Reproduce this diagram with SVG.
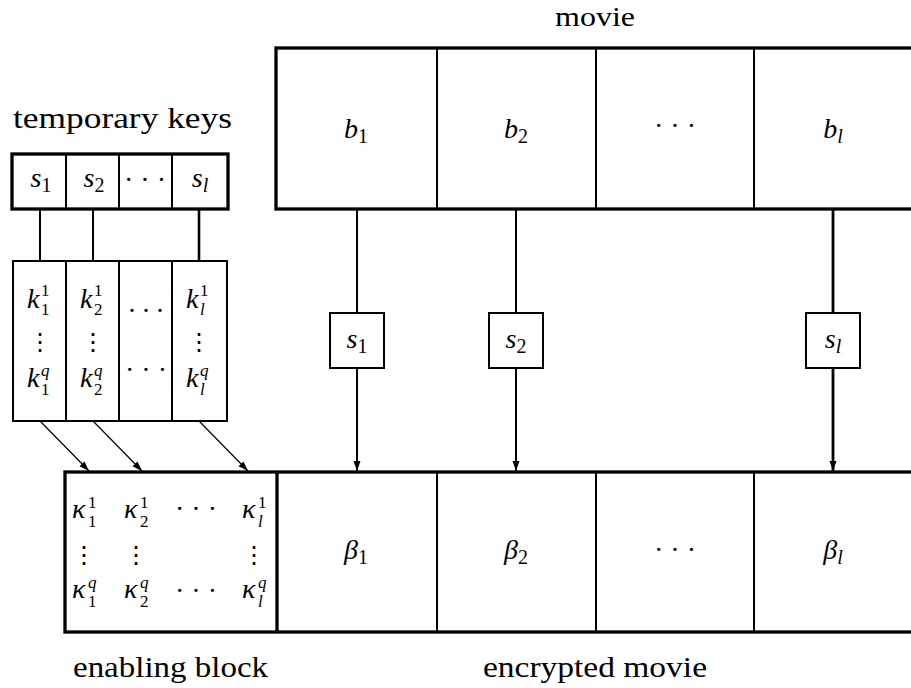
<svg xmlns="http://www.w3.org/2000/svg" width="911" height="688" viewBox="0 0 911 688">
  <defs>
    <marker id="head" markerUnits="userSpaceOnUse" markerWidth="10" markerHeight="8" refX="10" refY="3.5" orient="auto">
      <path d="M0,0 L10,3.5 L0,7 z" fill="#000"/>
    </marker>
  </defs>

  <!-- captions -->
  <g id="captions" fill="#000">
    <text font-family="Liberation Serif" font-size="28" x="555" y="26" textLength="80" lengthAdjust="spacingAndGlyphs">movie</text>
    <text font-family="Liberation Serif" font-size="30" x="13" y="128" textLength="219" lengthAdjust="spacingAndGlyphs">temporary keys</text>
    <text font-family="Liberation Serif" font-size="30" x="73" y="677" textLength="195" lengthAdjust="spacingAndGlyphs">enabling block</text>
    <text font-family="Liberation Serif" font-size="30" x="483" y="677" textLength="224" lengthAdjust="spacingAndGlyphs">encrypted movie</text>
  </g>

  <!-- plain movie blocks b_1 ... b_l -->
  <g id="movie">
    <rect x="276" y="48" width="650" height="161" fill="#fff" stroke="#000" stroke-width="3.3"/>
    <g stroke="#000" stroke-width="2">
      <line x1="437" y1="48" x2="437" y2="209"/>
      <line x1="596" y1="48" x2="596" y2="209"/>
      <line x1="754" y1="48" x2="754" y2="209"/>
    </g>
    <text font-family="Liberation Serif" font-size="28" font-style="italic" text-anchor="middle" x="356" y="138">b<tspan font-size="20" font-style="normal" dy="5">1</tspan></text>
    <text font-family="Liberation Serif" font-size="28" font-style="italic" text-anchor="middle" x="516" y="138">b<tspan font-size="20" font-style="normal" dy="5">2</tspan></text>
    <text font-family="Liberation Serif" font-size="28" text-anchor="middle" x="675" y="135">· · ·</text>
    <text font-family="Liberation Serif" font-size="28" font-style="italic" text-anchor="middle" x="833" y="138">b<tspan font-size="20" dy="5">l</tspan></text>
  </g>

  <!-- temporary keys s_1 ... s_l -->
  <g id="temp-keys">
    <rect x="12" y="154" width="216" height="55" fill="#fff" stroke="#000" stroke-width="3.3"/>
    <g stroke="#000" stroke-width="2">
      <line x1="66" y1="154" x2="66" y2="209"/>
      <line x1="119" y1="154" x2="119" y2="209"/>
      <line x1="172" y1="154" x2="172" y2="209"/>
    </g>
    <text font-family="Liberation Serif" font-size="28" font-style="italic" text-anchor="middle" x="41" y="187">s<tspan font-size="20" font-style="normal" dy="5">1</tspan></text>
    <text font-family="Liberation Serif" font-size="28" font-style="italic" text-anchor="middle" x="94" y="187">s<tspan font-size="20" font-style="normal" dy="5">2</tspan></text>
    <text font-family="Liberation Serif" font-size="28" text-anchor="middle" x="145" y="189">· · ·</text>
    <text font-family="Liberation Serif" font-size="28" font-style="italic" text-anchor="middle" x="200" y="187">s<tspan font-size="20" dy="5">l</tspan></text>
  </g>

  <!-- derived keys k_i^j -->
  <g id="derived-keys">
    <rect x="13" y="261" width="214" height="160" fill="#fff" stroke="#000" stroke-width="2"/>
    <g stroke="#000" stroke-width="2">
      <line x1="66" y1="261" x2="66" y2="421"/>
      <line x1="119" y1="261" x2="119" y2="421"/>
      <line x1="172" y1="261" x2="172" y2="421"/>
    </g>
    <!-- column 1 -->
    <text font-family="Liberation Serif" font-size="28" font-style="italic" x="27" y="308">k</text>
    <text font-family="Liberation Serif" font-size="17" x="41" y="296">1</text>
    <text font-family="Liberation Serif" font-size="17" x="41" y="315">1</text>
    <text font-family="DejaVu Serif" font-size="24" text-anchor="middle" x="40" y="350">⋮</text>
    <text font-family="Liberation Serif" font-size="28" font-style="italic" x="27" y="387">k</text>
    <text font-family="Liberation Serif" font-size="17" font-style="italic" x="41" y="376">q</text>
    <text font-family="Liberation Serif" font-size="17" x="41" y="395">1</text>
    <!-- column 2 -->
    <text font-family="Liberation Serif" font-size="28" font-style="italic" x="80" y="308">k</text>
    <text font-family="Liberation Serif" font-size="17" x="94" y="296">1</text>
    <text font-family="Liberation Serif" font-size="17" x="94" y="315">2</text>
    <text font-family="DejaVu Serif" font-size="24" text-anchor="middle" x="93" y="350">⋮</text>
    <text font-family="Liberation Serif" font-size="28" font-style="italic" x="80" y="387">k</text>
    <text font-family="Liberation Serif" font-size="17" font-style="italic" x="94" y="376">q</text>
    <text font-family="Liberation Serif" font-size="17" x="94" y="395">2</text>
    <!-- column 3 -->
    <text font-family="Liberation Serif" font-size="28" text-anchor="middle" x="146" y="312">. . .</text>
    <text font-family="Liberation Serif" font-size="28" text-anchor="middle" x="146" y="379">· · ·</text>
    <!-- column 4 -->
    <text font-family="Liberation Serif" font-size="28" font-style="italic" x="186" y="308">k</text>
    <text font-family="Liberation Serif" font-size="17" x="200" y="296">1</text>
    <text font-family="Liberation Serif" font-size="17" font-style="italic" x="200" y="315">l</text>
    <text font-family="DejaVu Serif" font-size="24" text-anchor="middle" x="199" y="350">⋮</text>
    <text font-family="Liberation Serif" font-size="28" font-style="italic" x="186" y="387">k</text>
    <text font-family="Liberation Serif" font-size="17" font-style="italic" x="200" y="376">q</text>
    <text font-family="Liberation Serif" font-size="17" font-style="italic" x="200" y="395">l</text>
  </g>

  <!-- per-block key boxes -->
  <g id="key-s1">
    <rect x="330" y="313" width="54" height="55" fill="#fff" stroke="#000" stroke-width="2"/>
    <text font-family="Liberation Serif" font-size="28" font-style="italic" text-anchor="middle" x="357" y="348">s<tspan font-size="20" font-style="normal" dy="5">1</tspan></text>
  </g>
  <g id="key-s2">
    <rect x="489" y="313" width="54" height="55" fill="#fff" stroke="#000" stroke-width="2"/>
    <text font-family="Liberation Serif" font-size="28" font-style="italic" text-anchor="middle" x="516" y="348">s<tspan font-size="20" font-style="normal" dy="5">2</tspan></text>
  </g>
  <g id="key-sl">
    <rect x="806" y="313" width="54" height="55" fill="#fff" stroke="#000" stroke-width="2"/>
    <text font-family="Liberation Serif" font-size="28" font-style="italic" text-anchor="middle" x="833" y="348">s<tspan font-size="20" dy="5">l</tspan></text>
  </g>

  <!-- enabling block + encrypted movie -->
  <g id="encrypted">
    <rect x="65" y="472" width="861" height="160" fill="#fff" stroke="#000" stroke-width="3.3"/>
    <line x1="277" y1="472" x2="277" y2="632" stroke="#000" stroke-width="3.3"/>
    <g stroke="#000" stroke-width="2">
      <line x1="437" y1="472" x2="437" y2="632"/>
      <line x1="596" y1="472" x2="596" y2="632"/>
      <line x1="754" y1="472" x2="754" y2="632"/>
    </g>
    <text font-family="Liberation Serif" font-size="28" font-style="italic" text-anchor="middle" x="356" y="559">β<tspan font-size="20" font-style="normal" dy="5">1</tspan></text>
    <text font-family="Liberation Serif" font-size="28" font-style="italic" text-anchor="middle" x="516" y="559">β<tspan font-size="20" font-style="normal" dy="5">2</tspan></text>
    <text font-family="Liberation Serif" font-size="28" text-anchor="middle" x="675" y="559">· · ·</text>
    <text font-family="Liberation Serif" font-size="28" font-style="italic" text-anchor="middle" x="833" y="559">β<tspan font-size="20" dy="5">l</tspan></text>
  </g>

  <g id="enabling-block">
    <!-- row 1 -->
    <text font-family="Liberation Serif" font-size="28" font-style="italic" x="72" y="518">κ</text>
    <text font-family="Liberation Serif" font-size="17" x="88" y="508">1</text>
    <text font-family="Liberation Serif" font-size="17" x="88" y="527">1</text>
    <text font-family="Liberation Serif" font-size="28" font-style="italic" x="124" y="518">κ</text>
    <text font-family="Liberation Serif" font-size="17" x="140" y="508">1</text>
    <text font-family="Liberation Serif" font-size="17" x="140" y="527">2</text>
    <text font-family="Liberation Serif" font-size="28" text-anchor="middle" x="196" y="518">· · ·</text>
    <text font-family="Liberation Serif" font-size="28" font-style="italic" x="242" y="518">κ</text>
    <text font-family="Liberation Serif" font-size="17" x="258" y="508">1</text>
    <text font-family="Liberation Serif" font-size="17" font-style="italic" x="258" y="527">l</text>
    <!-- vertical dots -->
    <text font-family="DejaVu Serif" font-size="24" text-anchor="middle" x="84" y="563">⋮</text>
    <text font-family="DejaVu Serif" font-size="24" text-anchor="middle" x="136" y="563">⋮</text>
    <text font-family="DejaVu Serif" font-size="24" text-anchor="middle" x="254" y="563">⋮</text>
    <!-- row q -->
    <text font-family="Liberation Serif" font-size="28" font-style="italic" x="72" y="598">κ</text>
    <text font-family="Liberation Serif" font-size="17" font-style="italic" x="88" y="588">q</text>
    <text font-family="Liberation Serif" font-size="17" x="88" y="607">1</text>
    <text font-family="Liberation Serif" font-size="28" font-style="italic" x="124" y="598">κ</text>
    <text font-family="Liberation Serif" font-size="17" font-style="italic" x="140" y="588">q</text>
    <text font-family="Liberation Serif" font-size="17" x="140" y="607">2</text>
    <text font-family="Liberation Serif" font-size="28" text-anchor="middle" x="196" y="600">· · ·</text>
    <text font-family="Liberation Serif" font-size="28" font-style="italic" x="242" y="598">κ</text>
    <text font-family="Liberation Serif" font-size="17" font-style="italic" x="258" y="588">q</text>
    <text font-family="Liberation Serif" font-size="17" font-style="italic" x="258" y="607">l</text>
  </g>

  <!-- connectors -->
  <g id="connectors" stroke="#000" fill="none" stroke-width="2">
    <line x1="40" y1="209" x2="40" y2="261"/>
    <line x1="93" y1="209" x2="93" y2="261"/>
    <line x1="199" y1="209" x2="199" y2="261" stroke-width="2.6"/>

    <line x1="40" y1="421" x2="89" y2="471" stroke-width="1.2" marker-end="url(#head)"/>
    <line x1="93" y1="421" x2="142" y2="471" stroke-width="1.2" marker-end="url(#head)"/>
    <line x1="199" y1="421" x2="248" y2="471" stroke-width="1.2" marker-end="url(#head)"/>

    <line x1="357" y1="209" x2="357" y2="313"/>
    <line x1="516" y1="209" x2="516" y2="313"/>
    <line x1="833" y1="209" x2="833" y2="313" stroke-width="2.8"/>

    <line x1="357" y1="368" x2="357" y2="471" marker-end="url(#head)"/>
    <line x1="516" y1="368" x2="516" y2="471" marker-end="url(#head)"/>
    <line x1="833" y1="368" x2="833" y2="471" stroke-width="2.8" marker-end="url(#head)"/>
  </g>
</svg>
